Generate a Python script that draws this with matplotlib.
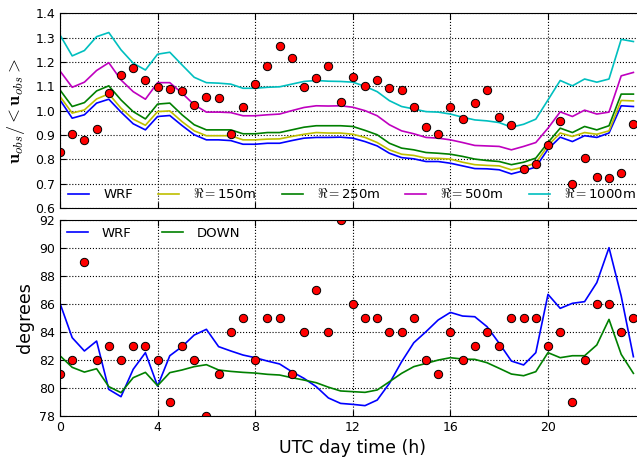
import numpy as np
import matplotlib
matplotlib.use('Agg')
import matplotlib.pyplot as plt

plt.rcParams['mathtext.fontset'] = 'cm'
plt.rcParams['font.family'] = 'DejaVu Sans'

# time axis, half-hour steps
hours = np.arange(48) * 0.5

# normalised wind speed (top panel)
u_wrf = [1.044, 0.969, 0.983, 1.031, 1.047, 0.994, 0.946, 0.921, 0.976, 0.980,
         0.939, 0.901, 0.880, 0.880, 0.877, 0.862, 0.862, 0.866, 0.866, 0.877,
         0.887, 0.890, 0.890, 0.891, 0.887, 0.873, 0.855, 0.825, 0.807, 0.802,
         0.791, 0.791, 0.784, 0.773, 0.762, 0.761, 0.757, 0.740, 0.753, 0.768,
         0.842, 0.891, 0.873, 0.897, 0.890, 0.908, 1.020, 1.017]
u_150 = [1.058, 0.990, 1.003, 1.048, 1.069, 1.010, 0.965, 0.940, 0.996, 0.999,
         0.955, 0.917, 0.897, 0.897, 0.897, 0.880, 0.880, 0.883, 0.884, 0.894,
         0.903, 0.910, 0.908, 0.908, 0.903, 0.890, 0.869, 0.839, 0.821, 0.816,
         0.805, 0.804, 0.801, 0.788, 0.778, 0.775, 0.773, 0.757, 0.768, 0.785,
         0.857, 0.908, 0.894, 0.910, 0.903, 0.917, 1.042, 1.040]
u_250 = [1.085, 1.017, 1.033, 1.081, 1.102, 1.044, 0.996, 0.966, 1.027, 1.031,
         0.983, 0.942, 0.921, 0.921, 0.921, 0.905, 0.905, 0.910, 0.910, 0.921,
         0.932, 0.938, 0.938, 0.938, 0.935, 0.919, 0.901, 0.866, 0.846, 0.839,
         0.828, 0.825, 0.821, 0.812, 0.801, 0.795, 0.791, 0.778, 0.788, 0.805,
         0.869, 0.928, 0.910, 0.935, 0.921, 0.938, 1.068, 1.068]
u_500 = [1.163, 1.096, 1.117, 1.165, 1.197, 1.126, 1.078, 1.047, 1.115, 1.115,
         1.072, 1.024, 0.994, 0.994, 0.992, 0.979, 0.979, 0.983, 0.986, 1.000,
         1.013, 1.020, 1.019, 1.020, 1.014, 1.000, 0.979, 0.942, 0.917, 0.905,
         0.890, 0.887, 0.880, 0.869, 0.857, 0.855, 0.853, 0.839, 0.853, 0.869,
         0.928, 0.995, 0.976, 1.002, 0.986, 0.994, 1.143, 1.157]
u_1000 = [1.311, 1.225, 1.247, 1.304, 1.321, 1.250, 1.195, 1.167, 1.232, 1.240,
          1.188, 1.137, 1.115, 1.113, 1.109, 1.092, 1.092, 1.096, 1.098, 1.109,
          1.120, 1.124, 1.121, 1.120, 1.117, 1.100, 1.078, 1.041, 1.017, 1.007,
          0.996, 0.994, 0.986, 0.973, 0.962, 0.958, 0.951, 0.932, 0.944, 0.965,
          1.044, 1.124, 1.102, 1.130, 1.117, 1.130, 1.293, 1.284]
u_obs = [0.830, 0.903, 0.880, 0.925, 1.074, 1.147, 1.177, 1.126, 1.096, 1.088,
         1.081, 1.024, 1.058, 1.051, 0.903, 1.014, 1.110, 1.185, 1.267, 1.215,
         1.096, 1.133, 1.185, 1.037, 1.140, 1.103, 1.126, 1.092, 1.085, 1.013,
         0.933, 0.905, 1.013, 0.966, 1.031, 1.085, 0.973, 0.943, 0.761, 0.782,
         0.860, 0.958, 0.698, 0.804, 0.726, 0.723, 0.743, 0.944]

# wind direction (bottom panel)
d_wrf = [86.04, 83.58, 82.63, 83.34, 79.88, 79.36, 81.32, 82.51, 80.12, 82.29,
         82.94, 83.77, 84.18, 82.94, 82.63, 82.34, 82.15, 81.91, 81.70, 81.15,
         80.67, 80.08, 79.27, 78.88, 78.81, 78.72, 79.12, 80.31, 81.86, 83.22,
         84.01, 84.85, 85.39, 85.13, 85.08, 84.37, 83.18, 81.91, 81.63, 82.51,
         86.68, 85.68, 86.04, 86.16, 87.52, 90.02, 86.56, 82.22]
d_down = [82.29, 81.46, 81.12, 81.36, 80.08, 79.65, 80.72, 81.10, 80.15, 81.08,
          81.27, 81.51, 81.65, 81.27, 81.17, 81.10, 81.05, 80.96, 80.91, 80.72,
          80.55, 80.36, 80.04, 79.77, 79.72, 79.67, 79.84, 80.43, 81.03, 81.51,
          81.74, 81.98, 82.15, 82.05, 82.03, 81.79, 81.39, 80.98, 80.86, 81.15,
          82.51, 82.15, 82.29, 82.29, 83.06, 84.89, 82.39, 81.03]
d_obs = [81, 82, 89, 82, 83, 82, 83, 83, 82, 79,
         83, 82, 78, 81, 84, 85, 82, 85, 85, 81,
         84, 87, 84, 92, 86, 85, 85, 84, 84, 85,
         82, 81, 84, 82, 83, 84, 83, 85, 85, 85,
         83, 84, 79, 82, 86, 86, 84, 85]

top_labels = ['WRF', r'$\Re=$150m', r'$\Re=$250m', r'$\Re=$500m', r'$\Re=$1000m']
top_colors = ['b', 'y', 'g', 'm', 'c']

fig = plt.figure(figsize=(6.37, 4.58), dpi=100)
W, H = 637.0, 458.0
left = 60 / W
width = (645.6 - 60) / W
ax1 = fig.add_axes([left, 1 - 208 / H, width, (208 - 13.3) / H])
ax2 = fig.add_axes([left, 1 - 415.7 / H, width, (415.7 - 220) / H])

for ax in (ax1, ax2):
    ax.grid(True, color='k', linestyle=':', linewidth=0.8)
    ax.tick_params(direction='in', top=True, right=True, labelsize=9, length=4)
    ax.set_xlim(0, 24)
    ax.set_xticks([0, 4, 8, 12, 16, 20])

# top panel
for series, lab, col in zip([u_wrf, u_150, u_250, u_500, u_1000], top_labels, top_colors):
    ax1.plot(hours, series, color=col, lw=1.2, label=lab)
ax1.plot(hours, u_obs, 'o', color='r', mec='k', mew=0.7, ms=6)
ax1.set_ylim(0.6, 1.4)
ax1.set_yticks(np.arange(0.6, 1.41, 0.1))
ax1.set_xticklabels([])
ax1.set_ylabel(r'$\mathbf{u}_{obs}/<\mathbf{u}_{obs}>$', fontsize=13, labelpad=6)
ax1.legend(loc='lower left', bbox_to_anchor=(0.003, 0.0), ncol=5, frameon=False,
           fontsize=9.5, handlelength=1.6, handletextpad=1.05, columnspacing=1.9,
           borderaxespad=0.2, borderpad=0.3)

# bottom panel
ax2.plot(hours, d_wrf, color='b', lw=1.2, label='WRF')
ax2.plot(hours, d_down, color='g', lw=1.2, label='DOWN')
ax2.plot(hours, d_obs, 'o', color='r', mec='k', mew=0.7, ms=6)
ax2.set_ylim(78, 92)
ax2.set_yticks(np.arange(78, 93, 2))
ax2.set_xlabel('UTC day time (h)', fontsize=12.5)
ax2.set_ylabel('degrees', fontsize=12.5)
ax2.legend(loc='upper left', ncol=2, frameon=False, fontsize=9.5,
           handlelength=1.6, handletextpad=1.05, columnspacing=2.3,
           borderaxespad=0.2, borderpad=0.3)

fig.savefig('out.png', dpi=100)
